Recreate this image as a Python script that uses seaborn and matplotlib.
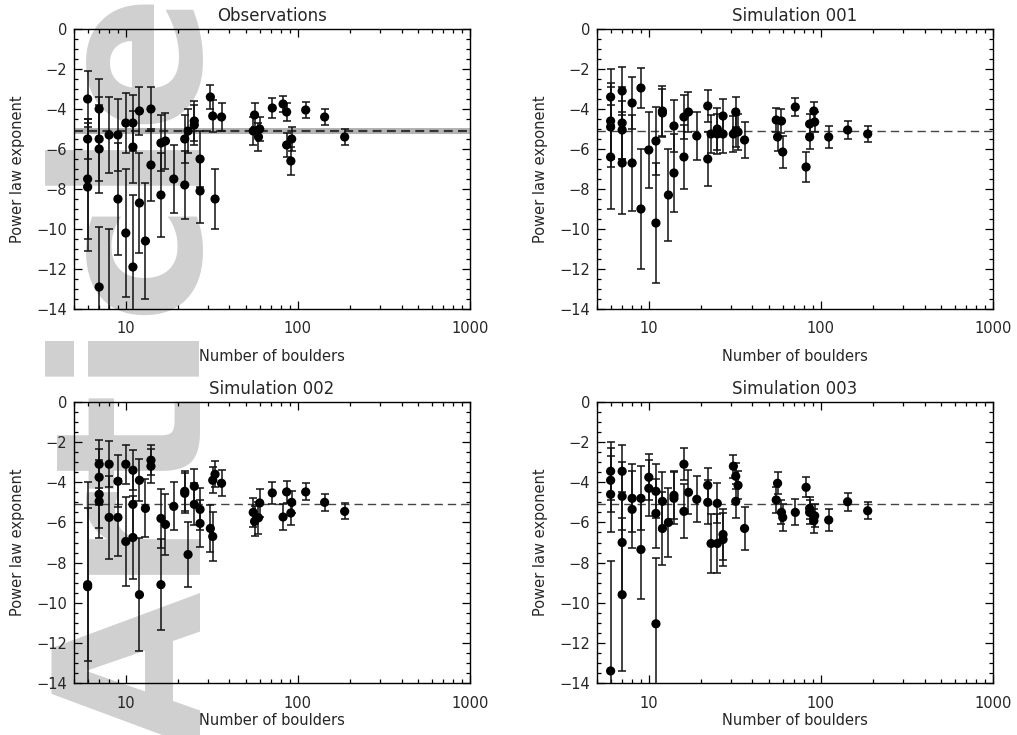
import numpy as np
import pandas as pd
import matplotlib
matplotlib.use("Agg")
import matplotlib.pyplot as plt
from matplotlib.ticker import FixedLocator, MultipleLocator, NullFormatter
import seaborn as sns

# ---------------------------------------------------------------------------
# Power-law exponent fitted to the boulder size distribution of each region,
# versus the number of boulders in that region, with 1-sigma uncertainties.
# ---------------------------------------------------------------------------
obs_n = [6, 6, 6, 6, 7, 7, 7, 7, 8, 8, 9, 9, 10, 10, 11, 11, 11, 12, 12, 13,
         14, 14, 16, 16, 17, 19, 22, 22, 23, 25, 25, 27, 27, 31, 32, 33, 36,
         55, 56, 59, 60, 71, 82, 86, 86, 91, 92, 111, 143, 187]
obs_exp = [-3.5, -5.5, -7.5, -7.9, -4.0, -5.5, -6.0, -12.9, -5.3, -15.5,
           -5.3, -8.5, -4.7, -10.2, -4.7, -5.9, -11.9, -4.1, -8.7, -10.6,
           -4.0, -6.8, -5.7, -8.3, -5.6, -7.5, -5.5, -7.8, -5.1, -4.6, -4.8,
           -6.5, -8.1, -3.4, -4.35, -8.5, -4.4,
           -5.1, -4.3, -5.4, -5.0, -3.95, -3.75, -4.15, -5.8, -6.6, -5.5,
           -4.05, -4.4, -5.4]
obs_err = [1.4, 1.0, 3.0, 3.2, 1.5, 2.1, 2.2, 3.0, 1.9, 5.5, 1.8, 2.8, 1.5,
           3.2, 1.4, 1.8, 3.6, 1.2, 2.5, 2.9, 1.1, 1.8, 1.4, 2.1, 1.4, 1.7,
           1.2, 1.7, 1.1, 1.0, 1.0, 1.4, 1.6, 0.6, 0.8, 1.5, 0.7,
           0.7, 0.6, 0.7, 0.6, 0.5, 0.4, 0.45, 0.6, 0.7, 0.6, 0.4, 0.4, 0.4]

sim1_n = [6, 6, 6, 6, 7, 7, 7, 7, 8, 8, 9, 9, 10, 11, 11, 12, 12, 13, 14, 14,
          16, 16, 17, 19, 22, 22, 23, 25, 25, 27, 27, 31, 32, 32, 33, 36,
          55, 56, 59, 60, 71, 82, 86, 86, 91, 92, 111, 143, 187]
sim1_exp = [-3.4, -4.6, -4.9, -6.4, -3.1, -4.7, -5.05, -6.7, -3.7, -6.7,
            -2.95, -9.0, -6.05, -5.6, -9.7, -4.1, -4.2, -8.3, -4.85, -7.2,
            -4.4, -6.4, -4.15, -5.35, -3.85, -6.5, -5.25, -5.0, -5.25, -4.35,
            -5.25, -5.25, -4.15, -5.1, -5.15, -5.55,
            -4.55, -5.4, -4.6, -6.15, -3.9, -6.9, -4.75, -5.4, -4.1, -4.65,
            -5.4, -5.05, -5.25]
sim1_err = [1.4, 1.9, 2.0, 2.6, 1.2, 1.8, 1.45, 2.55, 1.3, 2.4, 1.0, 3.0,
            1.9, 1.7, 3.0, 1.25, 1.2, 2.3, 1.3, 1.95, 1.1, 1.6, 1.0, 1.2, 0.8,
            1.35, 0.95, 1.05, 1.0, 0.85, 0.95, 0.9, 0.75, 0.8, 0.9, 0.9,
            0.6, 0.7, 0.6, 0.8, 0.47, 0.75, 0.5, 0.6, 0.45, 0.5, 0.53, 0.43,
            0.38]

sim2_n = [6, 6, 7, 7, 7, 7, 8, 8, 9, 9, 10, 10, 11, 11, 11, 12, 12, 13, 14,
          14, 16, 16, 17, 19, 22, 22, 23, 25, 25, 27, 27, 31, 32, 32, 33, 36,
          55, 56, 59, 60, 71, 82, 86, 91, 92, 111, 143, 187]
sim2_exp = [-9.1, -9.2, -3.1, -3.75, -4.6, -4.95, -3.1, -5.75, -3.95, -5.75,
            -3.1, -6.95, -3.4, -5.1, -6.75, -3.9, -9.6, -5.3, -2.9, -3.2,
            -5.8, -9.1, -6.1, -5.2, -4.45, -4.55, -7.6, -4.2, -5.1, -5.35,
            -6.05, -6.3, -3.9, -6.7, -3.6, -4.05,
            -5.5, -5.95, -5.77, -5.03, -4.53, -5.73, -4.48, -5.53, -5.0,
            -4.48, -5.0, -5.45]
sim2_err = [3.8, 5.2, 1.2, 1.4, 1.7, 1.85, 1.15, 2.05, 1.3, 1.9, 0.97, 2.2,
            1.0, 1.6, 2.05, 1.05, 2.8, 1.45, 0.75, 0.85, 1.45, 2.25, 1.5,
            1.2, 1.0, 1.0, 1.6, 0.85, 1.05, 1.05, 1.15, 1.15, 0.65, 1.2,
            0.65, 0.65,
            0.74, 0.75, 0.8, 0.7, 0.55, 0.63, 0.55, 0.6, 0.55, 0.42, 0.43,
            0.4]

sim3_n = [6, 6, 6, 6, 7, 7, 7, 7, 8, 8, 9, 9, 10, 10, 11, 11, 11, 12, 12, 13,
          14, 14, 16, 16, 17, 19, 22, 22, 23, 25, 25, 27, 27, 31, 32, 32, 33,
          36, 55, 56, 59, 60, 71, 82, 86, 86, 91, 92, 111, 143, 187]
sim3_exp = [-3.45, -3.9, -4.6, -13.4, -3.45, -4.7, -7.0, -9.6, -4.8, -5.35,
            -4.8, -7.35, -3.75, -4.3, -4.45, -5.55, -11.05, -4.95, -6.3,
            -6.0, -4.65, -4.8, -3.1, -5.45, -4.5, -4.85, -4.15, -5.0, -7.05,
            -5.05, -7.05, -6.6, -6.85, -3.2, -3.7, -4.95, -4.15, -6.3,
            -4.88, -4.05, -5.5, -5.75, -5.5, -4.25, -5.3, -5.5, -5.92, -5.67,
            -5.88, -4.97, -5.42]
sim3_err = [1.45, 1.6, 1.9, 5.5, 1.3, 1.7, 2.5, 3.8, 1.7, 1.9, 1.6, 2.45,
            1.15, 1.4, 1.35, 1.7, 3.3, 1.45, 1.8, 1.7, 1.2, 1.3, 0.8, 1.35,
            1.1, 1.15, 0.85, 1.1, 1.45, 1.0, 1.45, 1.25, 1.3, 0.58, 0.65,
            0.85, 0.7, 1.05,
            0.67, 0.55, 0.6, 0.67, 0.65, 0.5, 0.55, 0.6, 0.6, 0.58, 0.57,
            0.45, 0.42]

titles = ["Observations", "Simulation 001", "Simulation 002", "Simulation 003"]
x_ticks = [10, 100, 1000]
x_tick_labels = ["10", "100", "1000"]
y_ticks = [0, -2, -4, -6, -8, -10, -12, -14]

mean_exponent = -5.1          # mean exponent of the observed regions
mean_band = (-5.25, -4.95)    # its uncertainty

panels = [
    (obs_n, obs_exp, obs_err),
    (sim1_n, sim1_exp, sim1_err),
    (sim2_n, sim2_exp, sim2_err),
    (sim3_n, sim3_exp, sim3_err),
]

sns.set_theme(style="ticks")
plt.rcParams["font.family"] = ["DejaVu Sans"]
plt.rcParams["axes.unicode_minus"] = True

W, H = 1017, 735
fig = plt.figure(figsize=(W / 100, H / 100), dpi=100, facecolor="white")

# faint vertical "Article" mark along the left margin
fig.text(200 / W, 1 - 748 / H, "Article", rotation=90, rotation_mode="anchor",
         ha="left", va="baseline", fontsize=147, fontweight="bold",
         color="#d0d0d0", zorder=-5)

boxes = [
    (74, 29, 396, 280),
    (597, 29, 396, 280),
    (74, 402, 396, 281),
    (597, 402, 396, 281),
]

for i, ((n, e, err), (px, py, pw, ph)) in enumerate(zip(panels, boxes)):
    ax = fig.add_axes([px / W, 1 - (py + ph) / H, pw / W, ph / H])
    ax.set_facecolor("none")
    df = pd.DataFrame({"n": n, "exponent": e, "err": err})

    if i == 0:
        ax.axhspan(*mean_band, color="#b4b4b4", lw=0, zorder=1)
        ax.axhline(mean_exponent, color="#333333", lw=1.6,
                   linestyle=(0, (4, 2.4)), zorder=2)
    else:
        ax.axhline(mean_exponent, color="#444444", lw=1.0,
                   linestyle=(0, (6, 3.6)), zorder=2)

    ax.errorbar(df["n"], df["exponent"], yerr=df["err"], fmt="none",
                ecolor="#111111", elinewidth=1.1, capsize=2.6, capthick=1.1,
                zorder=3)
    sns.scatterplot(data=df, x="n", y="exponent", ax=ax, color="black",
                    s=44, edgecolor="none", linewidth=0, zorder=4,
                    legend=False)

    ax.set_xscale("log")
    ax.set_xlim(5, 1000)
    ax.set_ylim(-14, 0)

    ax.xaxis.set_major_locator(FixedLocator(x_ticks))
    ax.set_xticklabels(x_tick_labels)
    ax.xaxis.set_minor_locator(FixedLocator(
        [m * 10 ** d for d in (0, 1, 2) for m in range(2, 10)]))
    ax.xaxis.set_minor_formatter(NullFormatter())
    ax.yaxis.set_major_locator(FixedLocator(y_ticks))
    ax.yaxis.set_minor_locator(MultipleLocator(0.5))

    ax.tick_params(which="both", direction="in", top=True, right=True,
                   color="black", width=0.9)
    ax.tick_params(which="major", length=6)
    ax.tick_params(which="minor", length=3)
    ax.tick_params(axis="x", which="major", pad=9, labelsize=10.5)
    ax.tick_params(axis="y", which="major", pad=5, labelsize=10.5)

    for sp in ax.spines.values():
        sp.set_color("black")
        sp.set_linewidth(1.0)

    ax.set_title(titles[i], fontsize=12, pad=6)
    ax.set_xlabel("Number of boulders", fontsize=10.5,
                  labelpad=9 if i < 2 else 2)
    ax.set_ylabel("Power law exponent", fontsize=10.5, labelpad=8)

fig.savefig("out.png", dpi=100, facecolor="white")
